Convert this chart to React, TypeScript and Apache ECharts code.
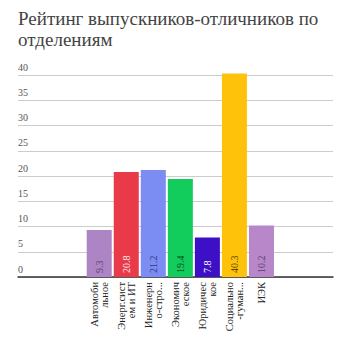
import React, { useEffect, useRef } from "react";
import * as echarts from "echarts";

const titleLines = ["Рейтинг выпускников-отличников по", "отделениям"];
const categories = [
  "Автомоби\nльное",
  "Энерг.сист\nем и ИТ",
  "Инженерн\nо-стро...",
  "Экономич\nеское",
  "Юридичес\nкое",
  "Социально\n-гуман...",
  "ИЭК",
];
const values = [9.3, 20.8, 21.2, 19.4, 7.8, 40.3, 10.2];
const barColors = ["#ad85c5", "#e93a4a", "#7b8cf2", "#12cd5c", "#3d10c8", "#ffc20a", "#b787c9"];
const labelColors = ["#5e3f70", "#ffe8ea", "#2f3d84", "#08501f", "#ffffff", "#5e4400", "#5e3f70"];
const yTicks = { min: 0, max: 40, interval: 5 };

const SERIF = "Liberation Serif";

export default function App() {
  const ref = useRef<HTMLDivElement>(null);
  useEffect(() => {
    if (!ref.current) return;
    const chart = echarts.init(ref.current, null, { renderer: "svg" });
    chart.setOption({
      animation: false,
      backgroundColor: "#ffffff",
      graphic: titleLines.map((t, i) => ({
        type: "text",
        left: 18,
        top: 9 + i * 21,
        style: {
          text: t,
          fontFamily: SERIF,
          fontSize: 19,
          fill: "#444444",
        },
      })),
      grid: [
        { left: 18, right: 19, top: 75, bottom: 79 },
        { left: 85.7, right: 77, top: 75, bottom: 79 },
      ],
      xAxis: [
        {
          gridIndex: 0,
          type: "value",
          min: 0,
          max: 1,
          axisLine: { show: true, lineStyle: { color: "#333333", width: 1.5 } },
          axisTick: { show: false },
          axisLabel: { show: false },
          splitLine: { show: false },
        },
        {
          gridIndex: 1,
          type: "category",
          data: categories,
          axisLine: { show: false },
          axisTick: { show: false },
          splitLine: { show: false },
          axisLabel: {
            interval: 0,
            rotate: 90,
            margin: 5,
            fontFamily: SERIF,
            fontSize: 10.5,
            lineHeight: 10,
            color: "#222222",
          },
        },
      ],
      yAxis: [
        {
          gridIndex: 0,
          type: "value",
          min: yTicks.min,
          max: yTicks.max,
          interval: yTicks.interval,
          axisLine: { show: false },
          axisTick: { show: false },
          splitLine: { show: true, lineStyle: { color: "#cccccc", width: 1 } },
          axisLabel: {
            inside: true,
            margin: 0,
            verticalAlign: "bottom",
            padding: [0, 0, 3, 0],
            fontFamily: SERIF,
            fontSize: 10,
            color: "#555555",
          },
        },
        {
          gridIndex: 1,
          type: "value",
          min: yTicks.min,
          max: yTicks.max,
          interval: yTicks.interval,
          show: false,
          splitLine: { show: false },
        },
      ],
      series: [
        {
          type: "bar",
          xAxisIndex: 1,
          yAxisIndex: 1,
          clip: false,
          barCategoryGap: "7.5%",
          data: values.map((v, i) => ({
            value: v,
            itemStyle: { color: barColors[i] },
            label: { color: labelColors[i] },
          })),
          label: {
            show: true,
            position: "insideBottom",
            rotate: 90,
            align: "left",
            verticalAlign: "middle",
            distance: 4,
            fontFamily: SERIF,
            fontSize: 10,
            textBorderWidth: 0,
            textBorderColor: "transparent",
          },
        },
      ],
    });
    return () => chart.dispose();
  }, []);
  return <div ref={ref} style={{ width: 352, height: 356, margin: -8 }} />;
}
